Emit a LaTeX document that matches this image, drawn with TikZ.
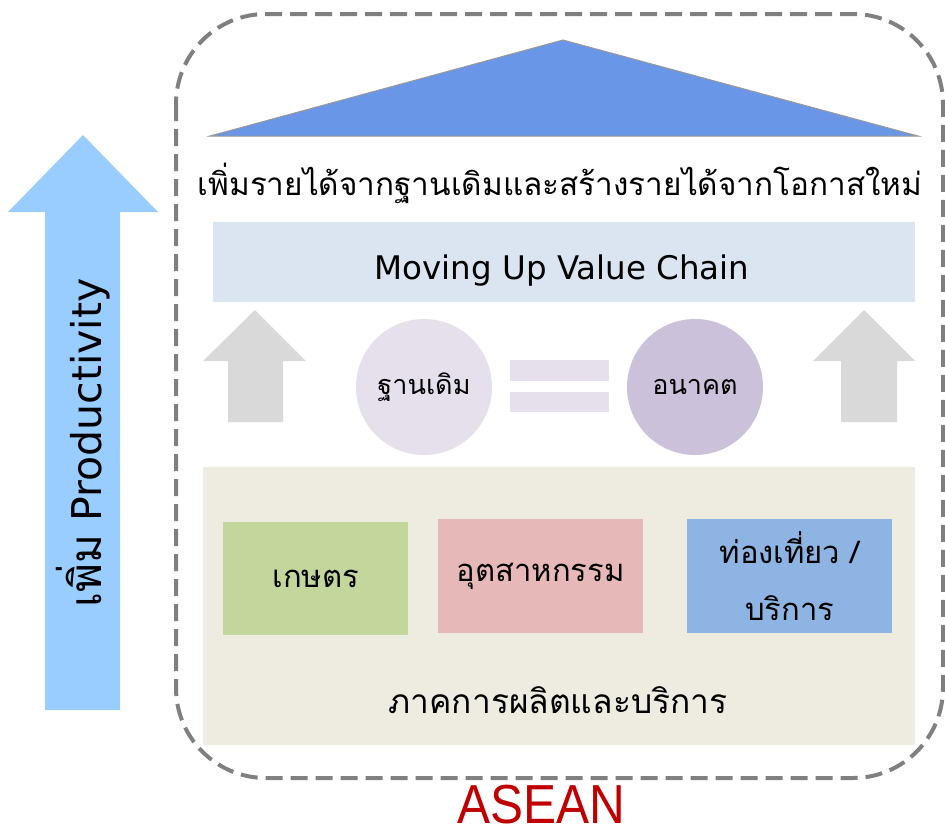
\documentclass[tikz,border=0pt]{standalone}
\usepackage{fontspec}
\newfontfamily\thai[Script=Thai]{Loma}
\newfontfamily\latin{DejaVu Sans}
\newfontfamily\aseanfont{Liberation Sans}
\setmainfont{Loma}
\definecolor{dashgrey}{RGB}{128,128,128}
\definecolor{roofblue}{RGB}{106,150,232}
\definecolor{chainbg}{RGB}{219,229,241}
\definecolor{prodblue}{RGB}{153,204,255}
\definecolor{arrgrey}{RGB}{217,217,217}
\definecolor{lilac}{RGB}{229,224,236}
\definecolor{lilacdark}{RGB}{204,193,218}
\definecolor{beige}{RGB}{238,236,225}
\definecolor{agri}{RGB}{195,214,155}
\definecolor{indus}{RGB}{230,185,184}
\definecolor{serv}{RGB}{142,180,227}
\definecolor{aseanred}{RGB}{192,0,0}
\tikzset{
  box/.style={draw=none, inner sep=0pt, anchor=north west},
  thaitxt/.style={font=\thai\fontsize{31}{57}\selectfont, text=black, align=center},
}
\begin{document}
\begin{tikzpicture}[x=1pt,y=-1pt]
\useasboundingbox (0,0) rectangle (945,836);
% left productivity arrow
\fill[prodblue] (45,710) -- (45,212) -- (8,212) -- (83,135) -- (158,212) -- (120,212) -- (120,710) -- cycle;
\node[rotate=90, anchor=base, inner sep=0pt] (prod) at (101,443) {\thai\fontsize{44}{44}\selectfont เพิ่ม\latin\fontsize{41}{44}\selectfont\ Productivity};
% dashed frame
\draw[dashgrey, line width=4pt, dash pattern=on 17pt off 8pt, rounded corners=90pt] (176,14) rectangle (943,778);
% roof
\fill[roofblue, draw=gray!80, line width=1pt] (210,136) -- (563,40) -- (918,136) -- cycle;
\node[thaitxt, font=\thai\fontsize{31.5}{34}\selectfont] (title) at (560,183) {เพิ่มรายได้จากฐานเดิมและสร้างรายได้จากโอกาสใหม่};
% moving up value chain
\node[box, fill=chainbg, minimum width=702pt, minimum height=80pt] (chain) at (213,222) {};
\node[font=\latin\fontsize{32.5}{36}\selectfont, anchor=base, inner sep=0pt] (chaintxt) at (562,279) {Moving Up Value Chain};
% grey arrows
\fill[arrgrey] (228,422) -- (228,361) -- (203,361) -- (255,310) -- (306,361) -- (283,361) -- (283,422) -- cycle;
\fill[arrgrey] (841,422) -- (841,361) -- (813,361) -- (864,310) -- (915,361) -- (897,361) -- (897,422) -- cycle;
% circles and equal sign
\node[circle, fill=lilac, minimum size=136pt, inner sep=0pt, thaitxt, font=\thai\fontsize{27}{30}\selectfont] (base) at (424,387) {ฐานเดิม};
\node[circle, fill=lilacdark, minimum size=136pt, inner sep=0pt, thaitxt, font=\thai\fontsize{27}{30}\selectfont] (future) at (695,387) {อนาคต};
\node[box, fill=lilac, minimum width=99pt, minimum height=21pt] (eqa) at (510,360) {};
\node[box, fill=lilac, minimum width=99pt, minimum height=20pt] (eqb) at (510,392) {};
% sector area
\node[box, fill=beige, minimum width=712pt, minimum height=278pt] (sector) at (203,467) {};
\node[box, fill=agri, minimum width=185pt, minimum height=113pt] (agri) at (223,522) {};
\node[thaitxt] at (agri.center) {เกษตร};
\node[box, fill=indus, minimum width=205pt, minimum height=114pt] (indus) at (438,519) {};
\node[thaitxt] at (indus.center) {อุตสาหกรรม};
\node[box, fill=serv, minimum width=205pt, minimum height=114pt] (serv) at (687,519) {};
\node[thaitxt] at (serv.center) {ท่องเที่ยว /\\บริการ};
\node[thaitxt, font=\thai\fontsize{33.5}{38}\selectfont] (sectortxt) at (558,700) {ภาคการผลิตและบริการ};
% ASEAN
\node[font=\aseanfont\fontsize{55}{55}\selectfont, text=aseanred, xscale=0.9, anchor=base, inner sep=0pt] (asean) at (541,823) {ASEAN};
\end{tikzpicture}
\end{document}
